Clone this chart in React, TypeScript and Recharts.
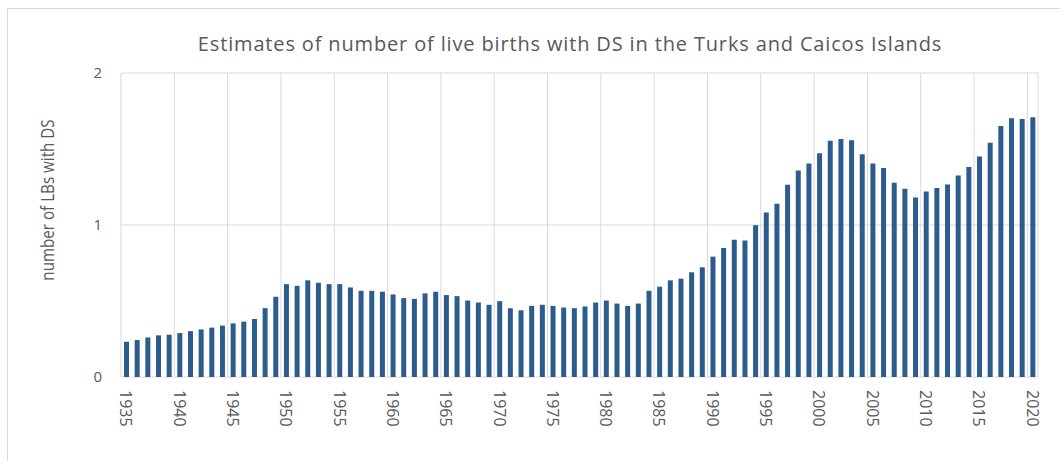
import React from 'react';
import { BarChart, Bar, XAxis, YAxis, CartesianGrid } from 'recharts';

const years = [
  1935, 1936, 1937, 1938, 1939, 1940, 1941, 1942, 1943, 1944,
  1945, 1946, 1947, 1948, 1949, 1950, 1951, 1952, 1953, 1954,
  1955, 1956, 1957, 1958, 1959, 1960, 1961, 1962, 1963, 1964,
  1965, 1966, 1967, 1968, 1969, 1970, 1971, 1972, 1973, 1974,
  1975, 1976, 1977, 1978, 1979, 1980, 1981, 1982, 1983, 1984,
  1985, 1986, 1987, 1988, 1989, 1990, 1991, 1992, 1993, 1994,
  1995, 1996, 1997, 1998, 1999, 2000, 2001, 2002, 2003, 2004,
  2005, 2006, 2007, 2008, 2009, 2010, 2011, 2012, 2013, 2014,
  2015, 2016, 2017, 2018, 2019, 2020,
];

const liveBirthsDS = [
  0.232, 0.243, 0.26, 0.274, 0.278, 0.289, 0.302, 0.313, 0.325, 0.338,
  0.353, 0.364, 0.382, 0.453, 0.528, 0.611, 0.6, 0.636, 0.62, 0.611,
  0.611, 0.589, 0.567, 0.567, 0.561, 0.543, 0.519, 0.514, 0.55, 0.561,
  0.539, 0.532, 0.503, 0.49, 0.475, 0.499, 0.453, 0.439, 0.468, 0.475,
  0.468, 0.457, 0.453, 0.464, 0.49, 0.503, 0.483, 0.468, 0.483, 0.567,
  0.594, 0.636, 0.647, 0.689, 0.722, 0.792, 0.848, 0.903, 0.898, 0.998,
  1.082, 1.139, 1.265, 1.358, 1.404, 1.472, 1.554, 1.565, 1.558, 1.466,
  1.404, 1.375, 1.278, 1.238, 1.181, 1.221, 1.243, 1.267, 1.325, 1.382,
  1.45, 1.541, 1.651, 1.702, 1.698, 1.709,
];

const xTickYears = [1935, 1940, 1945, 1950, 1955, 1960, 1965, 1970, 1975, 1980, 1985, 1990, 1995, 2000, 2005, 2010, 2015, 2020];
// vertical gridlines sit on the category boundaries left of every fifth year
const gridBoundaries = [1934.5, 1939.5, 1944.5, 1949.5, 1954.5, 1959.5, 1964.5, 1969.5, 1974.5, 1979.5, 1984.5, 1989.5, 1994.5, 1999.5, 2004.5, 2009.5, 2014.5, 2019.5];
const xDomain = [1934.5, 2020.5];
const yTicks = [0, 1, 2];

const title = 'Estimates of number of live births with DS in the Turks and Caicos Islands';
const yLabel = 'number of LBs with DS';

const data = years.map((year, i) => ({ year, value: liveBirthsDS[i] }));

const FONT = '"Open Sans", sans-serif';
const TEXT = '#595959';
const GRID = '#d9d9d9';
const BAR = '#2c5b8e';

const XTick = (props: any) => {
  const { x, y, payload } = props;
  const ty = y + 13;
  return (
    <text
      x={x}
      y={ty}
      transform={`rotate(90, ${x}, ${ty})`}
      textAnchor="start"
      dominantBaseline="central"
      fill={TEXT}
      fontSize={16}
      fontFamily={FONT}
    >
      {payload.value}
    </text>
  );
};

export default function App() {
  return (
    <div style={{ position: 'absolute', left: 0, top: 0, width: 1060, height: 461, background: '#fff', overflow: 'hidden' }}>
      <div style={{ position: 'absolute', left: 7, top: 8, width: 1100, height: 500, border: `1px solid ${GRID}` }} />
      <div style={{ position: 'absolute', left: 0, top: 0 }}>
        <BarChart
          width={1060}
          height={461}
          data={data}
          margin={{ top: 73, right: 22, bottom: 0, left: 0 }}
          barCategoryGap="50%"
        >
          <CartesianGrid xAxisId="grid" stroke={GRID} strokeWidth={1} />
          <XAxis
            xAxisId="grid"
            dataKey="year"
            type="number"
            domain={xDomain}
            ticks={gridBoundaries}
            interval={0}
            height={0}
            axisLine={{ stroke: GRID }}
            tickLine={{ stroke: GRID }}
            tickSize={5}
            tickFormatter={() => ''}
          />
          <XAxis
            xAxisId="main"
            dataKey="year"
            type="number"
            domain={xDomain}
            ticks={xTickYears}
            interval={0}
            height={84}
            axisLine={false}
            tickLine={false}
            tickSize={0}
            tickMargin={0}
            tick={<XTick />}
          />
          <YAxis
            domain={[0, 2]}
            ticks={yTicks}
            width={121}
            axisLine={false}
            tickLine={false}
            tickSize={0}
            tickMargin={19}
            tick={{ fill: TEXT, fontSize: 15, fontFamily: FONT }}
          />
          <Bar xAxisId="main" dataKey="value" fill={BAR} barSize={5} isAnimationActive={false} />
        </BarChart>
      </div>
      <svg width={1060} height={461} style={{ position: 'absolute', left: 0, top: 0, pointerEvents: 'none' }}>
        <text
          x={570}
          y={43}
          textAnchor="middle"
          dominantBaseline="central"
          fill={TEXT}
          fontSize={20}
          letterSpacing={0.85}
          fontFamily={FONT}
        >
          {title}
        </text>
        <text
          x={0}
          y={0}
          transform="translate(48, 200) scale(1.15, 1) rotate(-90)"
          textAnchor="middle"
          dominantBaseline="central"
          fill={TEXT}
          fontSize={15.2}
          fontFamily={FONT}
        >
          {yLabel}
        </text>
      </svg>
    </div>
  );
}
